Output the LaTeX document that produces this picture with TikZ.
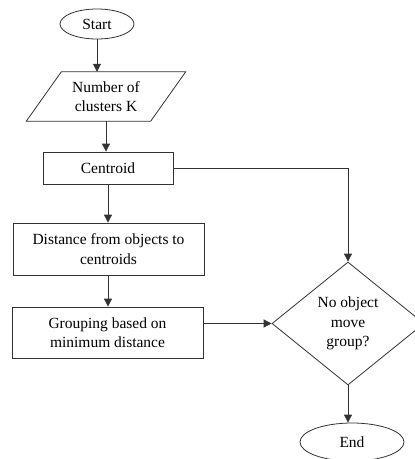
\documentclass[tikz,border=0pt]{standalone}
\usepackage{fontspec}
\setmainfont{Liberation Serif}
\usetikzlibrary{shapes.geometric,arrows.meta}
\definecolor{ln}{HTML}{333333}
\begin{document}
\begin{tikzpicture}[x=1pt,y=-1pt,
  every node/.style={font=\fontsize{15.5}{19.5}\selectfont, align=center, text=black, inner sep=0pt},
  term/.style={draw=ln, line width=0.8pt, ellipse},
  procbox/.style={draw=ln, line width=0.8pt, rectangle},
  decis/.style={draw=ln, line width=0.8pt, diamond},
  arr/.style={draw=ln, line width=0.8pt, -{Triangle[length=8pt,width=8pt]}}]
\fill[white] (0,0) rectangle (415,459);
\useasboundingbox (0,0) rectangle (415,459);
\node[term, minimum width=74, minimum height=30] (start) at (97,24) {Start};
\node[minimum width=124, minimum height=49] (num) at (106,96.5) {Number of\\clusters K};
\draw[ln, line width=0.8pt] ([xshift=-17.5]num.north west) ++(35,0) coordinate (ptl)
  (num.north east) ++(17.5,0) coordinate (ptr)
  (num.south east) ++(-17.5,0) coordinate (pbr)
  (num.south west) ++(-17.5,0) coordinate (pbl);
\draw[ln, line width=0.8pt] (ptl) -- (ptr) -- (pbr) -- (pbl) -- cycle;
\node[procbox, minimum width=130, minimum height=32] (cent) at (108,168) {Centroid};
\node[procbox, minimum width=191, minimum height=52] (dist) at (108.5,249) {Distance from objects to\\centroids};
\node[procbox, minimum width=191, minimum height=51] (grp) at (107.5,332.5) {Grouping based on\\minimum distance};
\node[decis, minimum width=152, minimum height=123] (dec) at (348,323.5) {No object\\move\\group?};
\node[term, minimum width=104, minimum height=38] (end) at (352,442) {End};
\draw[arr] (start.south) -- (start.south |- num.north);
\draw[arr] (num.south) -- (cent.north -| num.south);
\draw[arr] (cent.south) -- (dist.north -| cent.south);
\draw[arr] (dist.south -| cent.south) -- (grp.north -| cent.south);
\draw[arr] (cent.east) -| (dec.north);
\draw[arr] (grp.east |- dec.west) -- (dec.west);
\draw[arr] (dec.south) -- (end.north -| dec.south);
\end{tikzpicture}
\end{document}
